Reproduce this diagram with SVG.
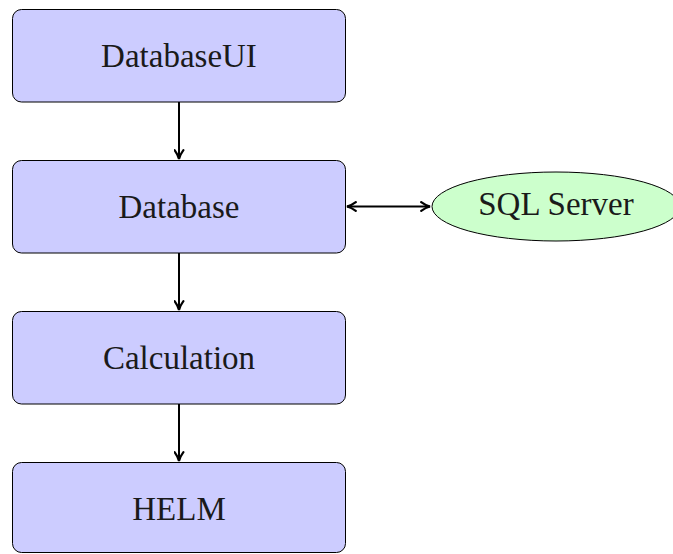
<svg xmlns="http://www.w3.org/2000/svg" width="673" height="554" viewBox="0 0 673 554">
<defs>
<style>
.box{fill:#ccccff;stroke:#000;stroke-width:1}
.ell{fill:#ccffcc;stroke:#000;stroke-width:1}
.t{font-family:"Liberation Serif","DejaVu Serif",serif;font-size:33px;fill:#1a1a1a;text-anchor:middle}
.c{stroke:#000;stroke-width:2;fill:none}
</style>
<marker id="ah" viewBox="0 0 10 10" refX="9" refY="5" markerWidth="11" markerHeight="11" markerUnits="userSpaceOnUse" orient="auto-start-reverse">
<path d="M1,1 Q5,4 9,5 Q5,6 1,9" fill="none" stroke="#000" stroke-width="2" stroke-linecap="round"/>
</marker>
</defs>
<g id="databaseui"><rect class="box" x="12.5" y="9.5" width="333" height="92.5" rx="9"/><text class="t" x="179" y="67">DatabaseUI</text></g>
<g id="database"><rect class="box" x="12.5" y="160.5" width="333" height="92.5" rx="9"/><text class="t" x="179" y="218">Database</text></g>
<g id="calculation"><rect class="box" x="12.5" y="311.5" width="333" height="92.5" rx="9"/><text class="t" x="179" y="369">Calculation</text></g>
<g id="helm"><rect class="box" x="12.5" y="462.5" width="333" height="90" rx="9"/><text class="t" x="179" y="520">HELM</text></g>
<g id="sqlserver"><ellipse class="ell" cx="556" cy="206.5" rx="124" ry="34.5"/><text class="t" x="556" y="215">SQL Server</text></g>
<g id="connectors">
<line class="c" x1="179" y1="102" x2="179" y2="159" marker-end="url(#ah)"/>
<line class="c" x1="179" y1="253" x2="179" y2="310" marker-end="url(#ah)"/>
<line class="c" x1="179" y1="404" x2="179" y2="461" marker-end="url(#ah)"/>
<line class="c" x1="347" y1="206.5" x2="430" y2="206.5" marker-start="url(#ah)" marker-end="url(#ah)"/>
</g>
</svg>
